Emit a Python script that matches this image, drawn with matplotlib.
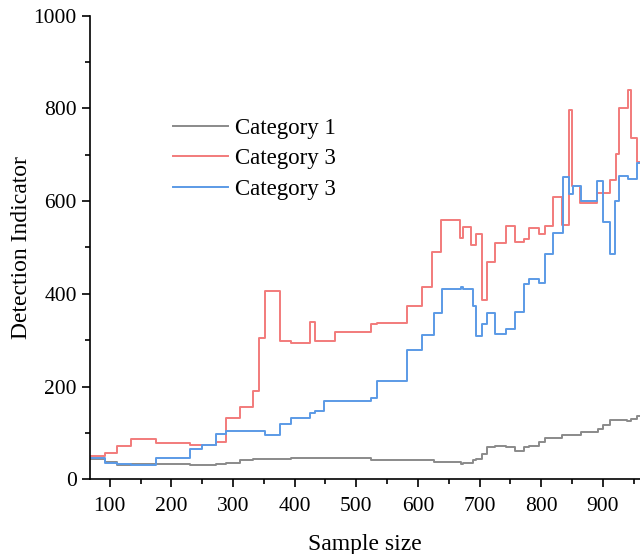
import matplotlib
matplotlib.use("Agg")
import matplotlib.pyplot as plt
from matplotlib.ticker import MultipleLocator

plt.rcParams["font.family"] = ["Liberation Serif", "DejaVu Serif"]

# step start positions and levels
grey_x = [68, 93, 112, 135, 230, 273, 289.5, 312, 332, 394, 523.5, 625.6, 670.5, 674, 689, 695,
          704.5, 712.6, 725.6, 743.4, 757, 772, 780, 796, 805.5, 834, 865, 892, 901, 912.5,
          939.5, 946.5, 955, 960]
grey_y = [43, 37, 31, 32, 30, 34, 35, 41, 44, 46, 42, 38, 34, 36, 41, 44,
          55, 70, 72, 70, 61, 69, 71, 81, 89, 96, 102, 108, 117, 129,
          126, 130, 137, 137]

red_x = [68, 93, 112, 135, 174.5, 230, 273, 289.5, 312, 332, 342.5, 351.7, 375.5, 394, 424.6,
         432.7, 466.3, 523.5, 534, 583, 607.3, 623, 637, 668, 674, 687, 694, 704.5, 712.6,
         725.6, 743.4, 757, 772, 780, 796, 805.5, 820, 834, 846, 850, 863, 891, 912.5, 921.7,
         926, 941.6, 946, 955, 960]
red_y = [50, 56, 72, 87, 79, 75, 81, 132, 157, 190, 305, 407, 299, 294, 339,
         299, 318, 335, 338, 373, 414, 491, 560, 520, 545, 505, 530, 387, 468,
         509, 546, 512, 518, 541, 529, 546, 608, 548, 797, 633, 595, 618, 646, 701,
         801, 840, 737, 684, 684]

blue_x = [68, 93, 112, 135, 174.5, 230, 250, 273, 289.5, 351.7, 375.5, 394, 424.6, 432.7, 447,
          523.5, 534, 583, 607.3, 625.6, 639, 670.5, 674, 689, 695, 704.5, 712.6, 725, 743.4,
          757, 772.6, 780, 796, 805.5, 820, 834.7, 846, 851.5, 864, 891, 900, 912.5, 920.6,
          926, 940.5, 955, 960]
blue_y = [46, 36, 32, 30, 47, 66, 75, 97, 105, 96, 120, 133, 142, 147, 168,
          176, 213, 278, 312, 359, 410, 414, 410, 373, 310, 336, 358, 313, 325,
          361, 422, 431, 424, 487, 532, 651, 615, 633, 601, 644, 556, 486, 601,
          654, 647, 682, 682]

labels = ["Category 1", "Category 3", "Category 3"]
colors = ["#8a8a8a", "#f27b7b", "#5b9ae6"]

fig = plt.figure(figsize=(6.4, 5.54), dpi=100)
ax = fig.add_axes([0.1406, 0.1348, 0.859, 0.8369])

for xs, ys, lab, col in zip([grey_x, red_x, blue_x], [grey_y, red_y, blue_y], labels, colors):
    ax.plot(xs, ys, drawstyle="steps-post", color=col, lw=1.4, label=lab)

ax.set_xlim(68, 960)
ax.set_ylim(0, 1000)
ax.xaxis.set_major_locator(MultipleLocator(100))
ax.xaxis.set_minor_locator(MultipleLocator(50))
ax.yaxis.set_major_locator(MultipleLocator(200))
ax.yaxis.set_minor_locator(MultipleLocator(100))
ax.tick_params(which="major", direction="out", length=6, width=1.2, labelsize=15.5)
ax.tick_params(axis="x", which="major", pad=7)
ax.tick_params(which="minor", direction="out", length=3.5, width=1.2)

ax.spines["top"].set_visible(False)
ax.spines["right"].set_visible(False)
ax.spines["left"].set_linewidth(1.2)
ax.spines["bottom"].set_linewidth(1.2)

ax.set_xlabel("Sample size", fontsize=17, labelpad=13)
ax.set_ylabel("Detection Indicator", fontsize=17, labelpad=1)

ax.legend(loc="center left", bbox_to_anchor=(0.151, 0.691), frameon=False, fontsize=16.5,
          handlelength=2.4, handletextpad=0.3, borderpad=0, borderaxespad=0, labelspacing=0.4)

fig.savefig("out.png", dpi=100)
